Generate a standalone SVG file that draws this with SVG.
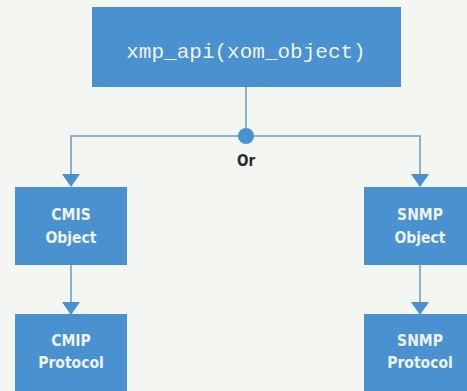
<svg xmlns="http://www.w3.org/2000/svg" width="467" height="391" viewBox="0 0 467 391">
<defs>
<style>
.box{fill:#4a91d0}
.ln{stroke:#7099bf;stroke-width:1.5;fill:none}
.ah{fill:#4a91d0}
.lbl{font-family:"Liberation Sans Narrow","DejaVu Sans Condensed","Liberation Sans",sans-serif;font-weight:bold;font-size:15.5px;fill:#eef3f8;text-anchor:middle}
.mono{font-family:"Liberation Mono","DejaVu Sans Mono",monospace;font-size:21px;fill:#eef3f8;text-anchor:middle}
.or{font-family:"Liberation Sans Narrow","DejaVu Sans Condensed","Liberation Sans",sans-serif;font-weight:bold;font-size:15px;fill:#2a2a2a;text-anchor:middle}
</style>
</defs>
<rect width="467" height="391" fill="#f4f6f2"/>
<g id="connectors">
<line class="ln" x1="246" y1="87" x2="246" y2="136"/>
<polyline class="ln" points="71,175 71,136 420,136 420,175"/>
<polygon class="ah" points="62,174 80,174 71,187"/>
<polygon class="ah" points="411,174 429,174 420,187"/>
<line class="ln" x1="71" y1="265" x2="71" y2="303"/>
<polygon class="ah" points="62,302 80,302 71,315"/>
<line class="ln" x1="420" y1="265" x2="420" y2="303"/>
<polygon class="ah" points="411,302 429,302 420,315"/>
<circle cx="246" cy="136" r="8" fill="#4a91d0"/>
<text class="or" x="246" y="166">Or</text>
</g>
<g id="api">
<rect class="box" x="92" y="7" width="309" height="80"/>
<text class="mono" x="246" y="58">xmp_api(xom_object)</text>
</g>
<g id="cmis">
<rect class="box" x="15" y="187" width="112" height="78"/>
<text class="lbl" x="71" y="220">CMIS</text>
<text class="lbl" x="71" y="243">Object</text>
</g>
<g id="snmp">
<rect class="box" x="364" y="187" width="112" height="78"/>
<text class="lbl" x="420" y="220">SNMP</text>
<text class="lbl" x="420" y="243">Object</text>
</g>
<g id="cmip">
<rect class="box" x="15" y="314" width="112" height="80"/>
<text class="lbl" x="71" y="346">CMIP</text>
<text class="lbl" x="71" y="368">Protocol</text>
</g>
<g id="snmpp">
<rect class="box" x="364" y="314" width="112" height="80"/>
<text class="lbl" x="420" y="346">SNMP</text>
<text class="lbl" x="420" y="368">Protocol</text>
</g>
</svg>
